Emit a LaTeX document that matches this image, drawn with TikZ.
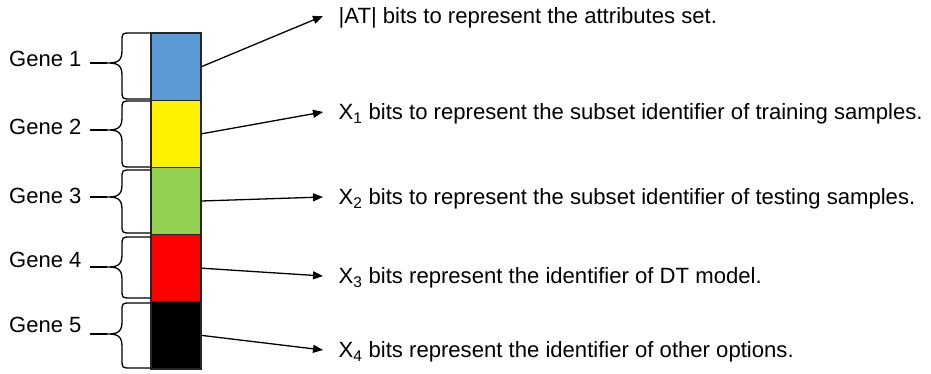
\documentclass[tikz,border=0pt]{standalone}
\usepackage{fontspec}
\setmainfont{Liberation Sans}
\usetikzlibrary{arrows.meta}
\definecolor{geneblue}{HTML}{5B9BD5}
\definecolor{genegreen}{HTML}{92D050}
% left brace: top, tip, bottom
\newcommand{\genebrace}[3]{%
  \draw (150,#1) -- (131,#1) .. controls (122,#1) .. (122,#1+9) -- (122,#2-12)
    .. controls (122,#2-1) and (116,#2) .. (107,#2) .. controls (116,#2) and (122,#2+1) .. (122,#2+12)
    -- (122,#3-9) .. controls (122,#3) .. (131,#3) -- (150,#3);}

\begin{document}
\begin{tikzpicture}[x=1pt, y=-1pt, line width=1.3pt,
    block/.style={draw=black!85, minimum width=50pt, minimum height=67.2pt, inner sep=0pt},
    gene/.style={anchor=east, inner xsep=8pt, inner ysep=0pt, font=\fontsize{22}{26}\selectfont,
      text height=15.7pt, text depth=0pt},
    desc/.style={anchor=west, inner xsep=15pt, inner ysep=0pt, font=\fontsize{22.1}{26}\selectfont,
      text height=15.7pt, text depth=0pt},
    link/.style={-{Triangle[length=10pt, width=8pt]}}]
  \useasboundingbox (0,0) rectangle (931,374);
  \foreach \i/\col in {1/geneblue, 2/yellow, 3/genegreen, 4/red, 5/black}
    \node[block, fill=\col] (g\i) at (176, {33+67.2*(\i-0.5)}) {};
  \foreach \i/\ya/\yt/\yb/\ly in {1/33/63/99/59, 2/101/130/167/126.5, 3/170/197/233/195.5,
      4/237/267/298/259.5, 5/303/334/368/324.5} {
    \genebrace{\ya}{\yt}{\yb}
    \coordinate (t\i) at (107, \yt);
    \node[gene] (lab\i) at (90, \ly) {Gene \i};
    \draw (t\i) -- (t\i -| lab\i.east);
  }
  \node[desc] (d1) at (323, 16) {|AT| bits to represent the attributes set.};
  \node[desc] (d2) at (323, 112) {X\textsubscript{1} bits to represent the subset identifier of training samples.};
  \node[desc] (d3) at (323, 197) {X\textsubscript{2} bits to represent the subset identifier of testing samples.};
  \node[desc] (d4) at (323, 276) {X\textsubscript{3} bits represent the identifier of DT model.};
  \node[desc] (d5) at (323, 350) {X\textsubscript{4} bits represent the identifier of other options.};
  \foreach \i in {1,...,5}
    \draw[link] (g\i.east) -- (d\i.west);
\end{tikzpicture}
\end{document}
